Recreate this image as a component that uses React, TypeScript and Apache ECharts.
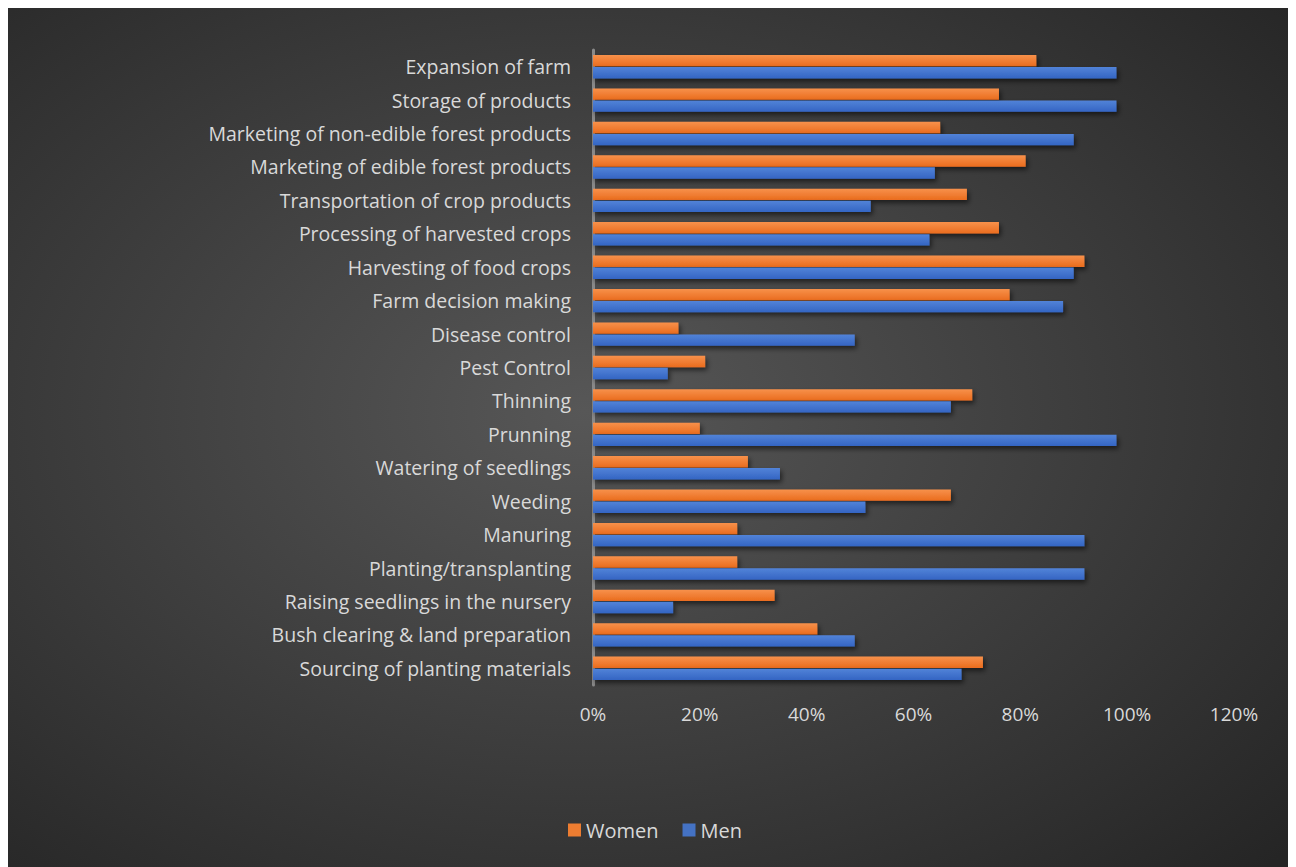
import React, { useEffect, useRef } from "react";
import * as echarts from "echarts";

const categories = [
  "Expansion of farm",
  "Storage of products",
  "Marketing of non-edible forest products",
  "Marketing of edible forest products",
  "Transportation of crop products",
  "Processing of harvested crops",
  "Harvesting of food crops",
  "Farm decision making",
  "Disease control",
  "Pest Control",
  "Thinning",
  "Prunning",
  "Watering of seedlings",
  "Weeding",
  "Manuring",
  "Planting/transplanting",
  "Raising seedlings in the nursery",
  "Bush clearing & land preparation",
  "Sourcing of planting materials",
];

const women = [0.83, 0.76, 0.65, 0.81, 0.70, 0.76, 0.92, 0.78, 0.16, 0.21, 0.71, 0.20, 0.29, 0.67, 0.27, 0.27, 0.34, 0.42, 0.73];
const men = [0.98, 0.98, 0.90, 0.64, 0.52, 0.63, 0.90, 0.88, 0.49, 0.14, 0.67, 0.98, 0.35, 0.51, 0.92, 0.92, 0.15, 0.49, 0.69];

const seriesNames = ["Women", "Men"];
const axisMin = 0;
const axisMax = 1.2;
const axisStep = 0.2;

const FONT = "'Open Sans', Lato, sans-serif";
const TEXT = "#d9d9d9";

export default function App() {
  const ref = useRef<HTMLDivElement>(null);
  useEffect(() => {
    if (!ref.current) return;
    const chart = echarts.init(ref.current, null, { renderer: "svg" });
    const orange = new echarts.graphic.LinearGradient(0, 0, 0, 1, [
      { offset: 0, color: "#f7914b" },
      { offset: 1, color: "#ea6c1e" },
    ]);
    const blue = new echarts.graphic.LinearGradient(0, 0, 0, 1, [
      { offset: 0, color: "#5283d8" },
      { offset: 1, color: "#3465c3" },
    ]);
    const shadow = {
      shadowBlur: 5,
      shadowOffsetX: 2,
      shadowOffsetY: 3,
      shadowColor: "rgba(0,0,0,0.55)",
    };
    chart.setOption({
      animation: false,
      backgroundColor: new echarts.graphic.RadialGradient(0.45, 0.47, 0.75, [
        { offset: 0, color: "#575757" },
        { offset: 1, color: "#252525" },
      ]),
      textStyle: { fontFamily: FONT },
      grid: { left: 585, right: 57, top: 44, bottom: 182 },
      legend: {
        data: [
          { name: seriesNames[0], itemStyle: { color: "#ed7d31" } },
          { name: seriesNames[1], itemStyle: { color: "#4472c4" } },
        ],
        bottom: 22,
        left: 555,
        icon: "rect",
        itemWidth: 13,
        itemHeight: 13,
        itemGap: 24,
        textStyle: { color: TEXT, fontSize: 20, fontFamily: FONT },
      },
      xAxis: {
        type: "value",
        min: axisMin,
        max: axisMax,
        interval: axisStep,
        axisLine: { show: false },
        axisTick: { show: false },
        splitLine: { show: false },
        axisLabel: {
          color: TEXT,
          fontSize: 19,
          margin: 19,
          formatter: (v: number) => `${Math.round(v * 100)}%`,
        },
      },
      yAxis: {
        type: "category",
        data: categories,
        inverse: true,
        axisLine: { show: true, lineStyle: { color: "#8a8a8a", width: 3 } },
        axisTick: { show: false },
        splitLine: { show: false },
        axisLabel: { color: TEXT, fontSize: 19.5, margin: 22 },
      },
      series: [
        {
          name: seriesNames[0],
          type: "bar",
          data: women,
          barGap: "6%",
          barCategoryGap: "30%",
          itemStyle: { color: orange, ...shadow },
        },
        {
          name: seriesNames[1],
          type: "bar",
          data: men,
          barGap: "6%",
          barCategoryGap: "30%",
          itemStyle: { color: blue, ...shadow },
        },
      ],
    });
    return () => chart.dispose();
  }, []);
  return <div ref={ref} style={{ width: 1283, height: 861, marginTop: -2 }} />;
}
